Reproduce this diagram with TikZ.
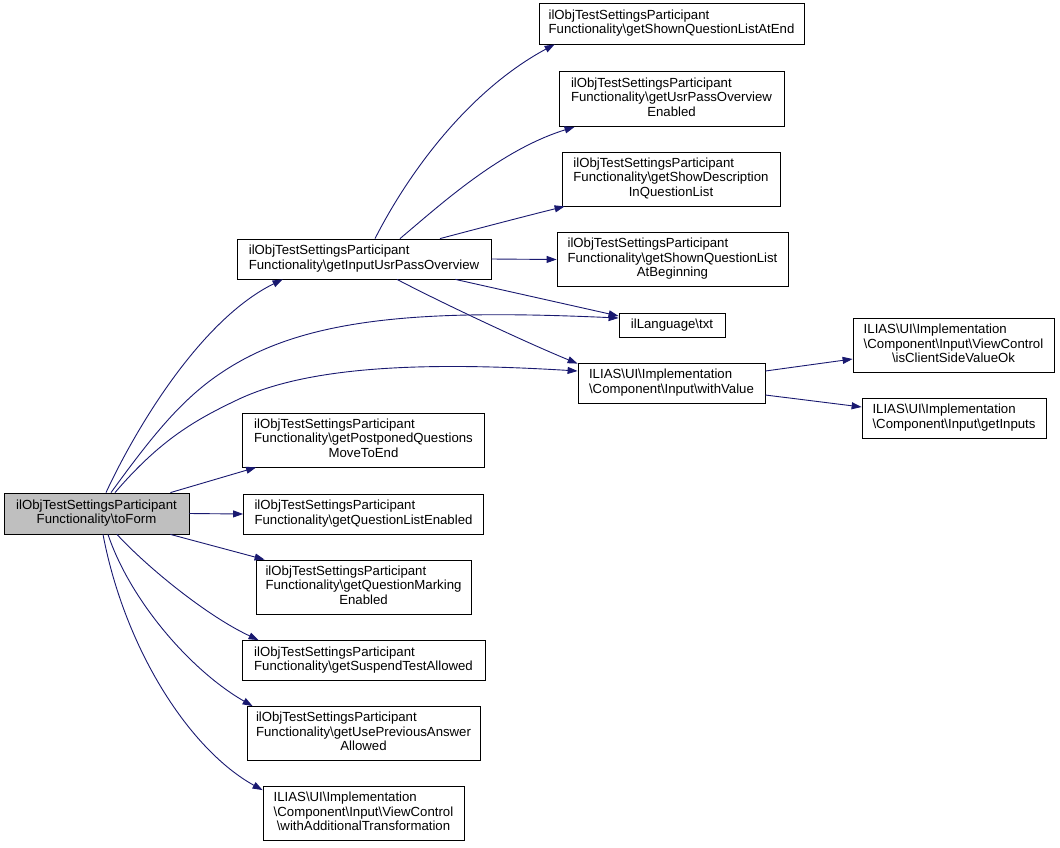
\documentclass[tikz,border=0pt]{standalone}
\usepackage{fontspec}
\setmainfont{Liberation Sans}
\usetikzlibrary{arrows.meta}
\definecolor{edgeblue}{HTML}{191970}
\definecolor{nodegray}{HTML}{BFBFBF}
\newcommand{\bsl}{\textbackslash}
\newcommand{\twoline}[2]{\begin{tabular}{@{}l@{}}#1\\\multicolumn{1}{@{}c@{}}{#2}\end{tabular}}
\newcommand{\threeline}[3]{\begin{tabular}{@{}l@{}}#1\\#2\\\multicolumn{1}{@{}c@{}}{#3}\end{tabular}}
\tikzset{
  fn/.style={draw=black, line width=0.8pt, fill=white, inner sep=2pt,
    font=\fontsize{13.2}{14.5}\selectfont, align=center},
  call/.style={draw=edgeblue, line width=0.9pt,
    -{Triangle[length=10pt,width=7pt]}},
}
\begin{document}
\begin{tikzpicture}[x=1pt,y=-1pt]
\useasboundingbox (0,0) rectangle (1060,847);

% rank 0
\node[fn, fill=nodegray, minimum width=185pt, minimum height=41pt] (tf) at (96.5,513.5)
  {\twoline{ilObjTestSettingsParticipant}{Functionality\bsl toForm}};

% rank 1
\node[fn, minimum width=254pt, minimum height=40pt] (A) at (364,259)
  {\twoline{ilObjTestSettingsParticipant}{Functionality\bsl getInputUsrPassOverview}};
\node[fn, minimum width=242pt, minimum height=54pt] (P1) at (363.5,440)
  {\threeline{ilObjTestSettingsParticipant}{Functionality\bsl getPostponedQuestions}{MoveToEnd}};
\node[fn, minimum width=240pt, minimum height=40pt] (P2) at (363.5,514)
  {\twoline{ilObjTestSettingsParticipant}{Functionality\bsl getQuestionListEnabled}};
\node[fn, minimum width=215pt, minimum height=54pt] (P3) at (363.5,587)
  {\threeline{ilObjTestSettingsParticipant}{Functionality\bsl getQuestionMarking}{Enabled}};
\node[fn, minimum width=243pt, minimum height=40pt] (P4) at (363.5,660.5)
  {\twoline{ilObjTestSettingsParticipant}{Functionality\bsl getSuspendTestAllowed}};
\node[fn, minimum width=233pt, minimum height=54pt] (P5) at (363.5,733.5)
  {\threeline{ilObjTestSettingsParticipant}{Functionality\bsl getUsePreviousAnswer}{Allowed}};
\node[fn, minimum width=201pt, minimum height=54pt] (P6) at (363.5,813.5)
  {\threeline{ILIAS\bsl UI\bsl Implementation}{\bsl Component\bsl Input\bsl ViewControl}{\bsl withAdditionalTransformation}};

% rank 2
\node[fn, minimum width=265pt, minimum height=41pt] (B1) at (671.5,23.5)
  {\twoline{ilObjTestSettingsParticipant}{Functionality\bsl getShownQuestionListAtEnd}};
\node[fn, minimum width=225pt, minimum height=55pt] (B2) at (671.5,99)
  {\threeline{ilObjTestSettingsParticipant}{Functionality\bsl getUsrPassOverview}{Enabled}};
\node[fn, minimum width=218pt, minimum height=54pt] (B3) at (671,179)
  {\threeline{ilObjTestSettingsParticipant}{Functionality\bsl getShowDescription}{InQuestionList}};
\node[fn, minimum width=231pt, minimum height=54pt] (B4) at (672.5,259.5)
  {\threeline{ilObjTestSettingsParticipant}{Functionality\bsl getShownQuestionList}{AtBeginning}};
\node[fn, minimum width=106pt, minimum height=24pt] (L) at (672,325)
  {ilLanguage\bsl txt};
\node[fn, minimum width=187pt, minimum height=40pt] (W) at (671.5,383)
  {\twoline{ILIAS\bsl UI\bsl Implementation}{\bsl Component\bsl Input\bsl withValue}};

% rank 3
\node[fn, minimum width=201pt, minimum height=54pt] (C1) at (953.5,345.5)
  {\threeline{ILIAS\bsl UI\bsl Implementation}{\bsl Component\bsl Input\bsl ViewControl}{\bsl isClientSideValueOk}};
\node[fn, minimum width=184pt, minimum height=40pt] (C2) at (954,418)
  {\twoline{ILIAS\bsl UI\bsl Implementation}{\bsl Component\bsl Input\bsl getInputs}};

% edges from toForm
\draw[call] ([xshift=9.5pt]tf.north) .. controls (135,430) and (200,320) .. ([xshift=46pt]A.south west);
\draw[call] ([xshift=14.5pt]tf.north) .. controls (160,425) and (190,390) .. (237,363) .. controls (320,315) and (440,310) .. ([yshift=7pt]L.west);
\draw[call] ([xshift=18.5pt]tf.north) .. controls (160,440) and (195,420) .. (237,400) .. controls (310,365) and (430,362) .. ([yshift=12pt]W.west);
\draw[call] ([xshift=-19pt]tf.north east) -- ([xshift=14pt]P1.south west);
\draw[call] (tf.east) -- (P2.west);
\draw[call] ([xshift=-19pt]tf.south east) -- ([xshift=9pt]P3.north west);
\draw[call] ([xshift=20.5pt]tf.south) .. controls (145,565) and (205,615) .. ([xshift=17pt]P4.north west);
\draw[call] ([xshift=11.5pt]tf.south) .. controls (130,600) and (190,670) .. ([xshift=6pt]P5.north west);
\draw[call] ([xshift=6.5pt]tf.south) .. controls (125,650) and (190,750) .. ([yshift=-4pt]P6.north west);

% edges from getInputUsrPassOverview
\draw[call] ([xshift=11pt]A.north) .. controls (410,170) and (470,90) .. ([xshift=16pt]B1.south west);
\draw[call] ([xshift=36pt]A.north) .. controls (440,205) and (500,150) .. ([xshift=16pt]B2.south west);
\draw[call] ([xshift=76pt]A.north) .. controls (480,228) and (530,215) .. ([xshift=3pt]B3.south west);
\draw[call] (A.east) -- (B4.west);
\draw[call] ([xshift=-36pt]A.south east) -- ([yshift=9pt]L.west);
\draw[call] ([xshift=33pt]A.south) .. controls (440,302) and (525,342) .. ([yshift=-1pt]W.north west);

% edges from withValue
\draw[call] ([yshift=12pt]W.east) -- ([yshift=-13.5pt]C1.west);
\draw[call] ([yshift=-12pt]W.east) -- ([yshift=11pt]C2.west);
\end{tikzpicture}
\end{document}
